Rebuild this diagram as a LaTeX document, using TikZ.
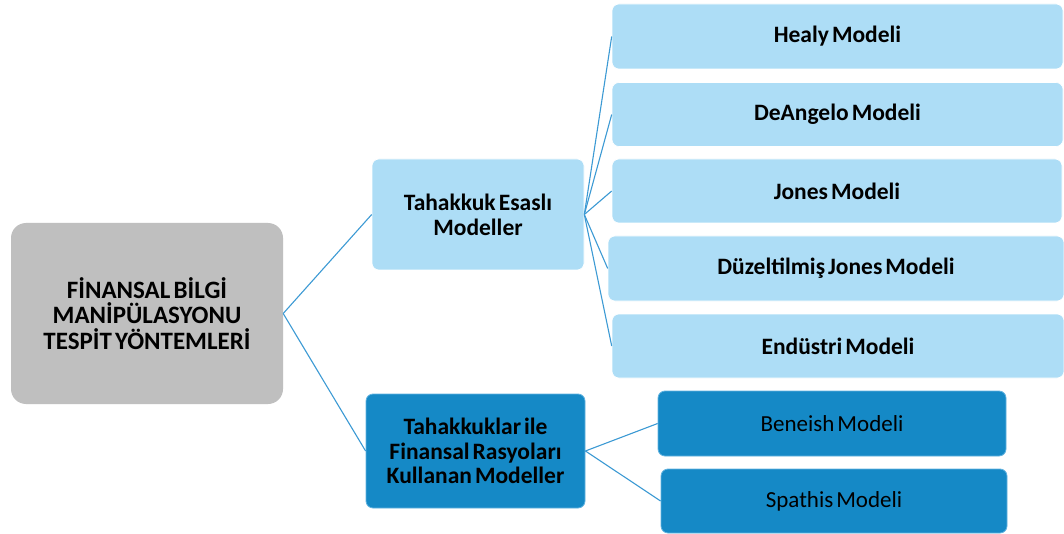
\documentclass[tikz,border=0pt]{standalone}
\usepackage{fontspec}
\setmainfont{Carlito}
\definecolor{rootgray}{HTML}{BFBFBF}
\definecolor{lightblue}{HTML}{ADDDF6}
\definecolor{darkblue}{HTML}{1589C6}
\definecolor{darkedge}{HTML}{62B3E0}
\definecolor{linkblue}{HTML}{3C9AD4}
\newcommand{\tightsp}{\spaceskip=0.13em plus 0.02em\relax}
\begin{document}
\begin{tikzpicture}[x=1pt,y=-1pt,
  box/.style={rectangle, rounded corners=7pt, inner sep=0pt, align=center,
    font=\fontsize{23.5}{25}\selectfont\bfseries\tightsp},
  rootbox/.style={box, fill=rootgray, rounded corners=15pt, font=\fontsize{25}{25.5}\selectfont\bfseries\tightsp},
  lightbox/.style={box, fill=lightblue, draw=white, line width=0.6pt},
  darkbox/.style={box, fill=darkblue, draw=darkedge, line width=0.8pt},
  leafdark/.style={darkbox, font=\fontsize{23}{25}\selectfont\tightsp},
  link/.style={draw=linkblue, line width=1.1pt}]
\useasboundingbox (0,0) rectangle (1064,534);
\fill[white] (0,0) rectangle (1064,534);

\node[rootbox, minimum width=272pt, minimum height=181pt] (root) at (147,313.5)
  {FİNANSAL BİLGİ\\MANİPÜLASYONU\\TESPİT YÖNTEMLERİ};

\node[lightbox, minimum width=212pt, minimum height=111pt] (tah) at (478,214.5)
  {Tahakkuk Esaslı\\Modeller};
\node[darkbox, minimum width=219pt, minimum height=114pt, font=\fontsize{23.5}{24.5}\selectfont\bfseries\tightsp] (fin) at (475.5,451)
  {Tahakkuklar ile\\Finansal Rasyoları\\Kullanan Modeller};

\node[lightbox, minimum width=451pt, minimum height=65pt] (healy) at (837.5,36.5) {Healy Modeli};
\node[lightbox, minimum width=451pt, minimum height=64pt] (deang) at (837.5,114.5) {DeAngelo Modeli};
\node[lightbox, minimum width=450pt, minimum height=64pt] (jones) at (837,191) {Jones Modeli};
\node[lightbox, minimum width=456pt, minimum height=65pt] (djones) at (836,268.5) {Düzeltilmiş Jones Modeli};
\node[lightbox, minimum width=452pt, minimum height=64pt] (endus) at (838,346) {Endüstri Modeli};

\node[leafdark, minimum width=348pt, minimum height=65pt] (ben) at (832,423.5) {Beneish Modeli};
\node[leafdark, minimum width=346pt, minimum height=64pt] (spa) at (834,501) {Spathis Modeli};

\draw[link] (root.east) -- (tah.west);
\draw[link] (root.east) -- (fin.west);
\draw[link] (tah.east) -- (healy.west);
\draw[link] (tah.east) -- (deang.west);
\draw[link] (tah.east) -- (jones.west);
\draw[link] (tah.east) -- (djones.west);
\draw[link] (tah.east) -- (endus.west);
\draw[link] (fin.east) -- (ben.west);
\draw[link] (fin.east) -- (spa.west);
\end{tikzpicture}
\end{document}
